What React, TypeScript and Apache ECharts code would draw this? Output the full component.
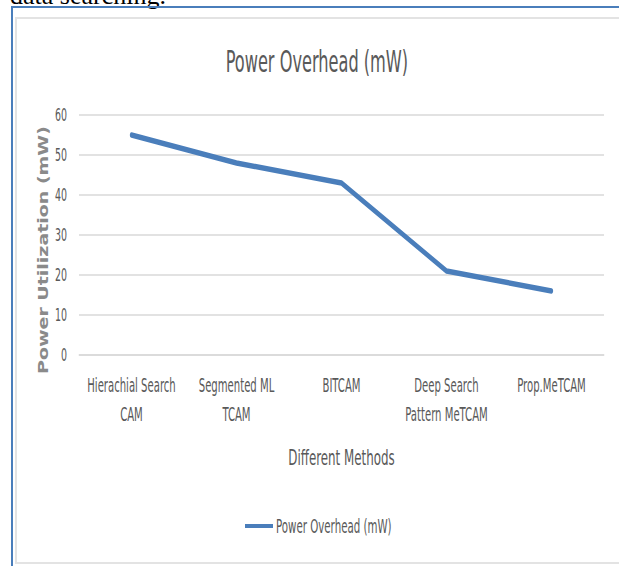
import React, { useEffect, useRef } from "react";
import * as echarts from "echarts";

// ---- data ----
const categories = [
  "Hierachial Search\nCAM",
  "Segmented ML\nTCAM",
  "BITCAM",
  "Deep Search\nPattern MeTCAM",
  "Prop.MeTCAM",
];
const powerOverhead = [55, 48, 43, 21, 16];
const seriesName = "Power Overhead (mW)";
const chartTitle = "Power Overhead (mW)";
const xAxisTitle = "Different Methods";
const yAxisTitle = "Power Utilization (mW)";
const yMin = 0;
const yMax = 60;
const yStep = 10;
const captionText = "data searching.";

// ---- layout (horizontal compression of the reference picture) ----
const K = 0.6;
const W = 619;
const H = 566;
const PW = W / K;
const px = (x: number) => x / K;

const NARROW = '"Liberation Sans Narrow", "DejaVu Sans Condensed", "Liberation Sans", sans-serif';

export default function App() {
  const ref = useRef<HTMLDivElement | null>(null);

  useEffect(() => {
    if (!ref.current) return;
    const chart = echarts.init(ref.current, null, { renderer: "svg", width: PW, height: H });

    const ctx = document.createElement("canvas").getContext("2d") as CanvasRenderingContext2D;
    ctx.font = `30px ${NARROW}`;
    const titleW = ctx.measureText(chartTitle).width;

    chart.setOption({
      animation: false,
      title: {
        text: chartTitle,
        left: px(317) - titleW / 2,
        top: 47,
        padding: 0,
        textStyle: {
          fontFamily: NARROW,
          fontSize: 30,
          lineHeight: 30,
          fontWeight: "normal",
          color: "#595959",
        },
      },
      legend: {
        left: px(245),
        top: 516,
        padding: 0,
        itemWidth: px(28),
        itemHeight: 4,
        itemGap: 0,
        data: [{ name: seriesName, icon: "rect" }],
        textStyle: {
          fontFamily: NARROW,
          fontSize: 19,
          lineHeight: 20,
          color: "#595959",
        },
      },
      grid: {
        left: px(79),
        right: PW - px(604),
        top: 115,
        bottom: H - 355,
        containLabel: false,
      },
      xAxis: {
        type: "category",
        data: categories,
        boundaryGap: true,
        name: xAxisTitle,
        nameLocation: "middle",
        nameGap: 91,
        nameTextStyle: {
          fontFamily: NARROW,
          fontSize: 22,
          lineHeight: 22,
          color: "#595959",
        },
        axisLine: { show: true, lineStyle: { color: "#d9d9d9", width: 1.5 } },
        axisTick: { show: false },
        axisLabel: {
          interval: 0,
          fontFamily: NARROW,
          fontSize: 18.7,
          lineHeight: 29,
          margin: 16,
          color: "#595959",
        },
        splitLine: { show: false },
      },
      yAxis: {
        type: "value",
        min: yMin,
        max: yMax,
        interval: yStep,
        axisLine: { show: false },
        axisTick: { show: false },
        axisLabel: {
          fontFamily: NARROW,
          fontSize: 17.5,
          margin: px(12),
          color: "#595959",
        },
        splitLine: { show: true, lineStyle: { color: "#d9d9d9", width: 1.5 } },
      },
      graphic: [
        {
          type: "text",
          x: px(43),
          y: 250,
          rotation: Math.PI / 2,
          scaleY: 0.78 / K,
          style: {
            text: yAxisTitle,
            fontFamily: '"DejaVu Sans", sans-serif',
            fontSize: 19,
            fontWeight: "bold",
            fill: "#8a8a8a",
            align: "center",
            verticalAlign: "middle",
          },
        },
      ],
      series: [
        {
          name: seriesName,
          type: "line",
          data: powerOverhead,
          symbol: "none",
          itemStyle: { color: "#4a7ebb" },
          lineStyle: { color: "#4a7ebb", width: 5.5, cap: "round", join: "round" },
        },
      ],
    });

    return () => chart.dispose();
  }, []);

  return (
    <div
      style={{
        position: "absolute",
        left: 0,
        top: 0,
        width: W,
        height: H,
        overflow: "hidden",
        background: "#ffffff",
      }}
    >
      <div
        style={{
          position: "absolute",
          left: 10,
          top: -16.8,
          fontFamily: '"Liberation Serif", "Times New Roman", serif',
          fontSize: 26,
          lineHeight: "26px",
          whiteSpace: "nowrap",
          color: "#000",
        }}
      >
        {captionText}
      </div>
      <div
        style={{
          position: "absolute",
          left: 11,
          top: 6,
          width: 800,
          height: 800,
          border: "2px solid #4a7ebb",
          boxSizing: "border-box",
        }}
      />
      <div
        style={{
          position: "absolute",
          left: 15,
          top: 17,
          width: 800,
          height: 547,
          border: "2px solid #e3e3e3",
          boxSizing: "border-box",
        }}
      />
      <div
        ref={ref}
        style={{
          position: "absolute",
          left: 0,
          top: 0,
          width: PW,
          height: H,
          transform: `scaleX(${K})`,
          transformOrigin: "0 0",
        }}
      />
    </div>
  );
}
